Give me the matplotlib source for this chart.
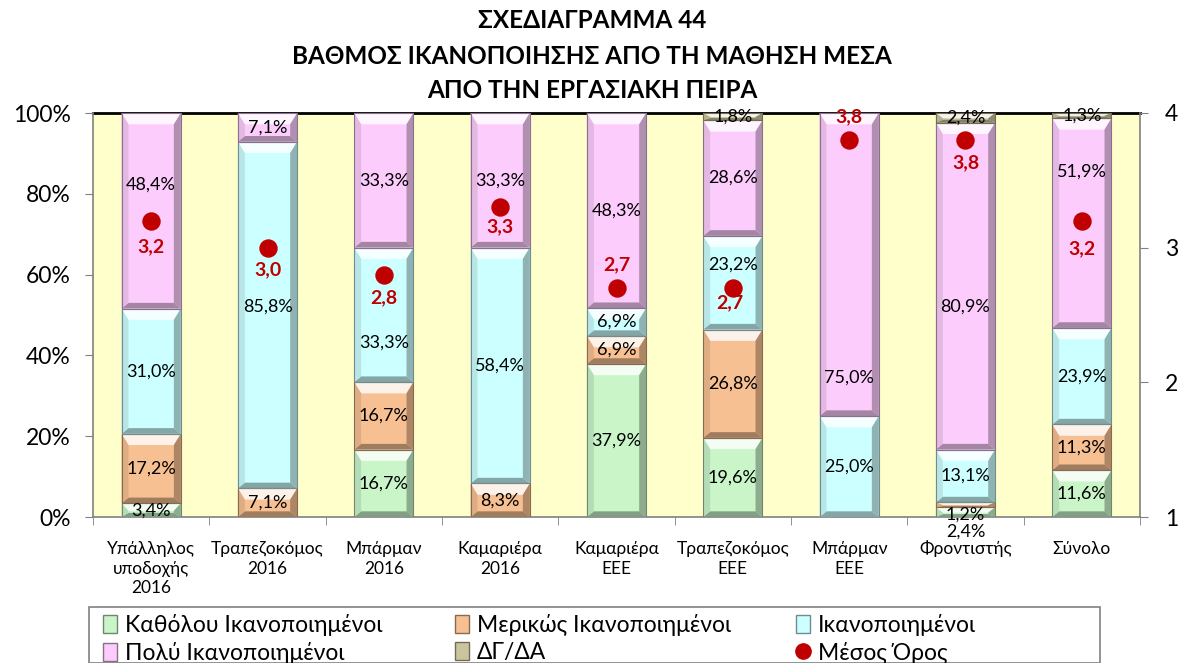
import numpy as np
import matplotlib.pyplot as plt
from matplotlib.patches import Polygon, Patch, Rectangle
from matplotlib.lines import Line2D
from matplotlib.colors import to_rgb

plt.rcParams['font.family'] = ['Lato', 'DejaVu Sans']

categories = ["Υπάλληλος\nυποδοχής\n2016", "Τραπεζοκόμος\n2016", "Μπάρμαν\n2016",
              "Καμαριέρα\n2016", "Καμαριέρα\nΕΕΕ", "Τραπεζοκόμος\nΕΕΕ", "Μπάρμαν\nΕΕΕ",
              "Φροντιστής", "Σύνολο"]

katholou = [3.4, 0, 16.7, 0, 37.9, 19.6, 0, 2.4, 11.6]
merikos = [17.2, 7.1, 16.7, 8.3, 6.9, 26.8, 0, 1.2, 11.3]
ikanopoiimenoi = [31.0, 85.8, 33.3, 58.4, 6.9, 23.2, 25.0, 13.1, 23.9]
poly = [48.4, 7.1, 33.3, 33.3, 48.3, 28.6, 75.0, 80.9, 51.9]
dgda = [0, 0, 0, 0, 0, 1.8, 0, 2.4, 1.3]
mesos_oros = [3.2, 3.0, 2.8, 3.3, 2.7, 2.7, 3.8, 3.8, 3.2]

series = [
    ("Καθόλου Ικανοποιημένοι", katholou, "#C9F5C9"),
    ("Μερικώς Ικανοποιημένοι", merikos, "#F7C092"),
    ("Ικανοποιημένοι", ikanopoiimenoi, "#CCFFFF"),
    ("Πολύ Ικανοποιημένοι", poly, "#FCCCFC"),
    ("ΔΓ/ΔΑ", dgda, "#CBC59E"),
]

# labels that sit away from the segment centre: (series, category) -> y in %
moved_labels = {
    (3, 0): 82.2,
    (2, 2): 43.1,
    (2, 1): 52.0,
    (2, 5): 62.4,
    (3, 6): 34.6,
    (3, 7): 52.0,
    (3, 8): 85.6,
    (0, 7): -3.7,
    (1, 7): 0.6,
}

RED = "#C00000"
BG = "#FFFFCC"


def mix(color, other, t):
    c = np.array(to_rgb(color))
    o = np.array(to_rgb(other))
    return tuple(c * (1 - t) + o * t)


def bevel(ax, patch, color):
    # bevelled look: light top, darker sides and bottom
    x0, y0 = patch.get_x(), patch.get_y()
    w, h = patch.get_width(), patch.get_height()
    if h <= 0:
        return
    bx = 0.06
    bt = min(2.8, h * 0.55)
    bb = min(1.4, h * 0.3)
    x1, y1 = x0 + w, y0 + h
    faces = [
        ([(x0, y1), (x1, y1), (x1 - bx, y1 - bt), (x0 + bx, y1 - bt)], mix(color, "white", 0.8)),
        ([(x0, y0), (x1, y0), (x1 - bx, y0 + bb), (x0 + bx, y0 + bb)], mix(color, "black", 0.35)),
        ([(x0, y0), (x0 + bx, y0 + bb), (x0 + bx, y1 - bt), (x0, y1)], mix(color, "black", 0.1)),
        ([(x1, y0), (x1 - bx, y0 + bb), (x1 - bx, y1 - bt), (x1, y1)], mix(color, "black", 0.3)),
    ]
    for pts, fc in faces:
        ax.add_patch(Polygon(pts, closed=True, facecolor=fc, edgecolor="none", zorder=3))
    ax.add_patch(Polygon([(x0, y0), (x1, y0), (x1, y1), (x0, y1)], closed=True,
                         facecolor="none", edgecolor=mix(color, "black", 0.45),
                         linewidth=0.8, zorder=3.5))


fig = plt.figure(figsize=(11.84, 6.63), dpi=100)
ax = fig.add_axes([93 / 1184, 1 - 517 / 663, (1140 - 93) / 1184, (517 - 113) / 663])
ax.set_facecolor(BG)

x = np.arange(len(categories))
width = 0.51
bottom = np.zeros(len(categories))
for name, vals, color in series:
    vals = np.array(vals, dtype=float)
    bars = ax.bar(x, vals, width, bottom=bottom, color=color, edgecolor="none",
                  label=name, zorder=2)
    for b in bars:
        bevel(ax, b, color)
    bottom += vals

# data labels
bottom = np.zeros(len(categories))
for s, (name, vals, color) in enumerate(series):
    for i, v in enumerate(vals):
        if v > 0:
            yc = moved_labels.get((s, i), bottom[i] + v / 2)
            ax.text(x[i], yc, f"{v:.1f}%".replace(".", ","), ha="center", va="center",
                    fontsize=13, color="black", zorder=5, clip_on=False)
    bottom += np.array(vals, dtype=float)

ax.set_xlim(-0.5, len(categories) - 0.5)
ax.set_ylim(0, 100)
ax.set_yticks([0, 20, 40, 60, 80, 100])
ax.set_yticklabels([f"{t}%" for t in [0, 20, 40, 60, 80, 100]], fontsize=16.5)
ax.set_xticks(x)
ax.set_xticklabels(categories, fontsize=12.5, linespacing=1.3)
ax.set_xticks(np.arange(-0.5, len(categories)), minor=True)
ax.tick_params(axis="x", which="major", length=0, pad=17)
ax.tick_params(axis="x", which="minor", length=6, color="#808080", direction="out")
ax.tick_params(axis="y", length=6, color="#808080", direction="out", pad=10)
for sp in ["left", "bottom", "right"]:
    ax.spines[sp].set_color("#808080")
    ax.spines[sp].set_linewidth(1.2)
ax.spines["top"].set_color("black")
ax.spines["top"].set_linewidth(2)
ax.spines["top"].set_zorder(1)

# mean score on the secondary axis
ax2 = ax.twinx()
ax2.set_ylim(1, 4)
ax2.set_yticks([1, 2, 3, 4])
ax2.set_yticklabels(["1", "2", "3", "4"], fontsize=16.5)
ax2.tick_params(axis="y", length=6, color="#808080", direction="out", pad=12)
for sp in ax2.spines.values():
    sp.set_visible(False)
ax2.scatter(x, mesos_oros, s=150, color=RED, zorder=6, label="Μέσος Όρος")

label_offsets = [(0, -26), (0, -22), (0, -23), (0, -19), (0, 23),
                 (-3, -15), (0, 23), (0, -23), (0, -28)]
for i, m in enumerate(mesos_oros):
    dx, dy = label_offsets[i]
    ax2.annotate(f"{m:.1f}".replace(".", ","), (x[i], m), xytext=(dx, dy),
                 textcoords="offset pixels", ha="center", va="center",
                 fontsize=14, fontweight="bold", color=RED, zorder=7)

title_lines = ["ΣΧΕΔΙΑΓΡΑΜΜΑ 44", "ΒΑΘΜΟΣ ΙΚΑΝΟΠΟΙΗΣΗΣ ΑΠΟ ΤΗ ΜΑΘΗΣΗ ΜΕΣΑ",
               "ΑΠΟ ΤΗΝ ΕΡΓΑΣΙΑΚΗ ΠΕΙΡΑ"]
for line, ypx in zip(title_lines, [20, 57, 90]):
    fig.text(0.5, 1 - ypx / 663, line, ha="center", va="center",
             fontsize=17.5, fontweight="bold")

handles = []
for name, vals, color in series:
    handles.append(Patch(facecolor=color, edgecolor=mix(color, "black", 0.45), label=name))
handles.append(Line2D([], [], marker="o", linestyle="none", markersize=11,
                      color=RED, label="Μέσος Όρος"))

# legend: three columns of two rows inside one gray box
fig.add_artist(Rectangle((89 / 1184, 0), (1100 - 89) / 1184, 1 - 607 / 663,
                         transform=fig.transFigure, facecolor="white",
                         edgecolor="#808080", linewidth=1.2, zorder=0))
for col, xpx in zip([(0, 3), (1, 4), (2, 5)], [103, 455, 796]):
    hs = [handles[k] for k in col]
    leg = fig.legend(hs, [h.get_label() for h in hs], loc="upper left",
                     bbox_to_anchor=(xpx / 1184, 1 - 614 / 663), frameon=False,
                     fontsize=16.5, handlelength=0.6, handleheight=0.85,
                     handletextpad=0.35, borderpad=0, labelspacing=0.25,
                     borderaxespad=0)

fig.savefig("out.png", dpi=100)
